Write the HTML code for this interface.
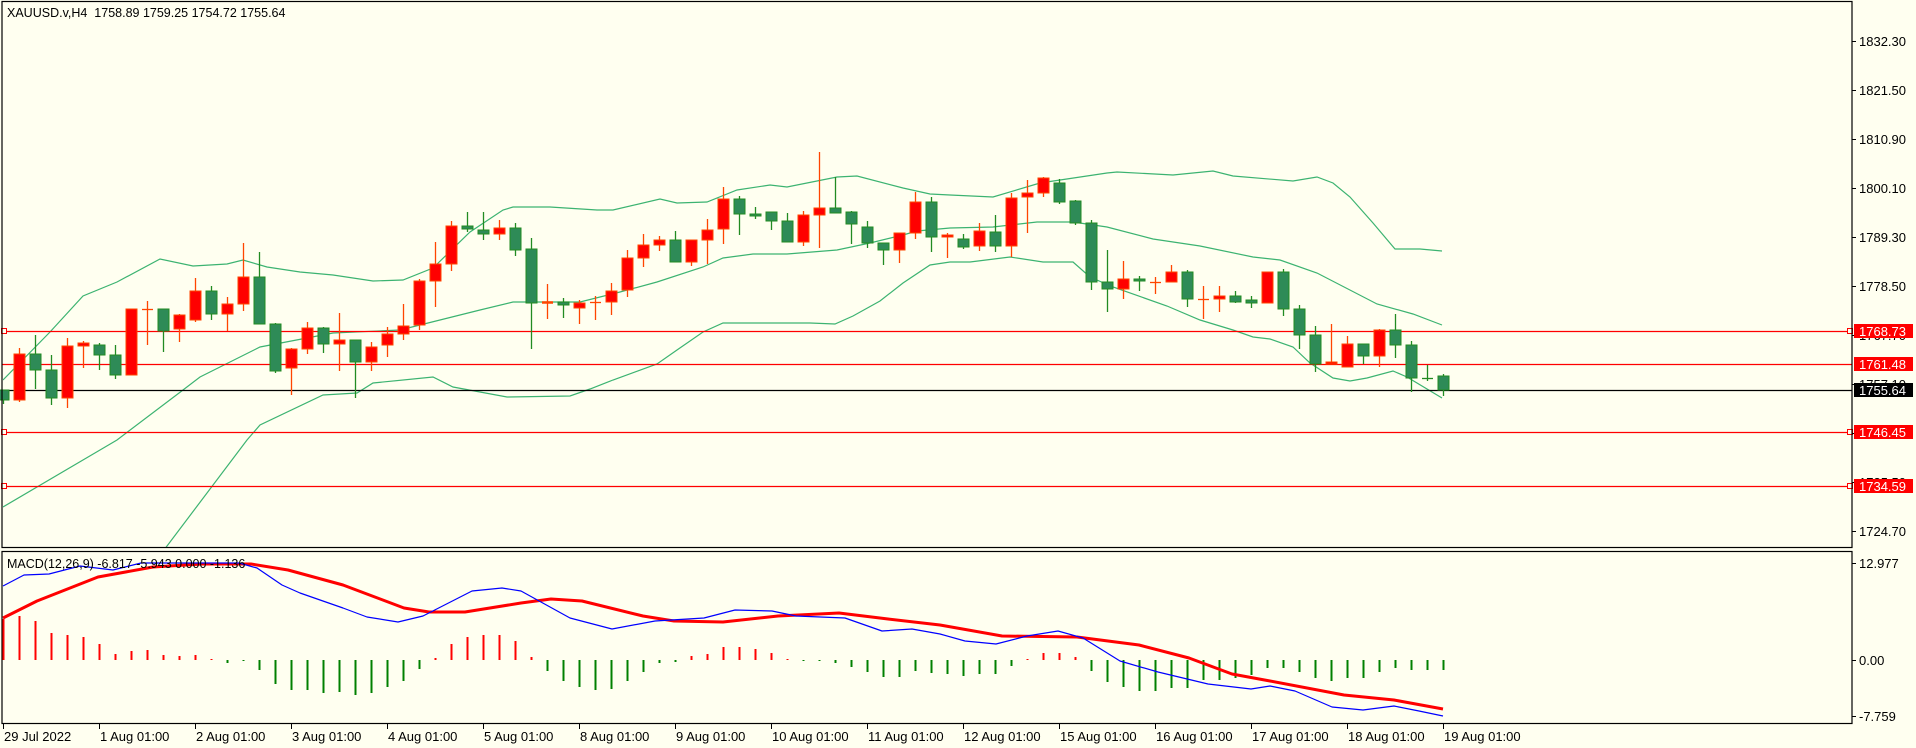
<!DOCTYPE html>
<html><head><meta charset="utf-8"><style>
html,body{margin:0;padding:0;background:#fffff0;}
svg{display:block;font-family:"Liberation Sans",sans-serif;}
text{white-space:pre;}
</style></head><body>
<svg id="c" width="1916" height="748" viewBox="0 0 1916 748" xmlns="http://www.w3.org/2000/svg" xml:space="preserve">
<rect width="1916" height="748" fill="#fffff0"/>
<g id="g"></g>
</svg>
<script>
const NS="http://www.w3.org/2000/svg",G=document.getElementById('g');
function el(t,a,txt){const e=document.createElementNS(NS,t);for(const k in a)e.setAttribute(k,a[k]);if(txt!==undefined)e.textContent=txt;G.appendChild(e);return e;}
function pl(pts,col,w){el('polyline',{points:pts.map(p=>p.join(',')).join(' '),fill:'none',stroke:col,'stroke-width':w,'stroke-linejoin':'round'});}
const X=k=>3.3+16*k;
const up=[[3,380],[50,332],[83,296],[117,282],[160,259],[193,266],[227,264],[243,260],[267,267],[300,272],[333,275],[373,281],[403,280],[433,268],[470,232],[503,210],[513,207],[550,207],[597,210],[613,210],[660,199],[677,203],[707,202],[737,190],[770,185],[787,187],[837,177],[857,176],[903,188],[930,194],[950,195],[993,197],[1040,183],[1107,173],[1117,172],[1173,175],[1213,171],[1233,176],[1293,181],[1317,177],[1333,183],[1350,197],[1373,223],[1395,249],[1420,249],[1442,251]];
const mid=[[3,507],[100,450],[117,440],[183,390],[200,377],[260,347],[333,333],[400,330],[480,310],[513,302],[580,302],[620,292],[657,282],[703,267],[723,258],[753,254],[787,254],[837,250],[870,243],[903,235],[917,231],[950,228],[993,227],[1037,222],[1073,222],[1107,227],[1153,239],[1200,246],[1253,257],[1280,260],[1317,273],[1377,304],[1413,314],[1442,325]];
const lo=[[157,560],[164,550],[247,440],[260,425],[323,395],[357,393],[373,383],[433,377],[453,387],[480,392],[507,397],[570,396],[590,389],[613,380],[657,364],[677,350],[703,332],[723,323],[810,323],[835,324],[853,316],[880,301],[903,283],[930,265],[950,262],[970,262],[1010,257],[1043,262],[1073,262],[1090,277],[1113,287],[1167,306],[1200,320],[1233,330],[1253,337],[1270,339],[1293,347],[1310,363],[1333,378],[1350,381],[1367,378],[1393,371],[1407,377],[1442,398]];
const cp=el('clipPath',{id:'mp'});const r=document.createElementNS(NS,'rect');r.setAttribute('x',3);r.setAttribute('y',2);r.setAttribute('width',1849);r.setAttribute('height',545);cp.appendChild(r);
const gb=el('g',{'clip-path':'url(#mp)'});
[up,mid,lo].forEach(p=>{const e=document.createElementNS(NS,'polyline');e.setAttribute('points',p.map(q=>q.join(',')).join(' '));e.setAttribute('fill','none');e.setAttribute('stroke','#3cb371');e.setAttribute('stroke-width','1.2');gb.appendChild(e);});
[[331,'#ff0000'],[364,'#ff0000'],[432,'#ff0000'],[486,'#ff0000']].forEach(([y,c])=>{el('line',{x1:2,x2:1852,y1:y+.5,y2:y+.5,stroke:c,'stroke-width':1.2});});
el('line',{x1:2,x2:1852,y1:390.5,y2:390.5,stroke:'#000','stroke-width':1.2});
[331,432,486].forEach(y=>{el('rect',{x:1.5,y:y-2.5,width:5,height:5,fill:'#fffff0',stroke:'#ff0000','stroke-width':1});el('rect',{x:1847.5,y:y-2.5,width:5,height:5,fill:'#fffff0',stroke:'#ff0000','stroke-width':1});});
const C=[['G',390,400,390,404],['R',354,400,348,402],['G',354,370,335,389],['G',370,398,355,405],['R',346,398,338,408],['R',343,346,341,368],['G',345,355,343,370],['G',355,375,345,379],['R',309,375,309,375],['R',309,309,301,345],
['G',309,331,309,352],['R',315,329,314,342],['R',291,320,278,322],['G',291,314,286,320],['R',304,314,297,331],['R',277,304,243,311],['G',277,324,252,324],['G',324,371,323,373],['R',349,368,348,395],['R',328,349,322,354],
['G',328,344,327,353],['R',340,344,313,371],['G',340,362,340,398],['R',347,362,342,371],['R',334,345,327,357],['R',326,334,304,340],['R',281,325,279,330],['R',264,281,242,307],['R',226,264,221,271],['G',226,229,212,232],
['G',230,234,212,240],['R',228,234,220,240],['G',228,250,223,256],['G',249,303,238,349],['R',302,303,284,319],['G',302,305,298,318],['R',303,308,300,324],['R',302,302,296,320],['R',291,302,283,315],['R',258,290,250,297],
['R',245,258,234,267],['R',240,245,236,251],['G',240,262,231,262],['R',240,262,240,266],['R',230,240,219,264],['R',199,229,187,244],['G',199,214,196,235],['G',214,216,207,219],['G',212,221,212,230],['G',221,242,213,242],
['R',215,242,211,246],['R',208,215,152,248],['G',208,213,177,213],['G',212,224,211,244],['G',227,243,221,248],['G',243,250,243,265],['R',233,250,233,263],['R',202,233,192,239],['G',202,237,197,252],['R',235,237,233,258],
['G',239,247,234,249],['R',231,246,223,251],['G',232,246,215,252],['R',198,246,193,257],['R',193,197,180,233],['R',178,193,177,197],['G',183,202,179,204],['G',201,223,200,225],['G',223,282,220,290],['G',282,289,250,312],
['R',279,289,261,299],['G',279,281,276,291],['R',282,282,277,294],['R',272,282,265,282],['G',272,299,270,307],['R',299,299,286,319],['R',296,299,286,312],['G',296,302,291,303],['G',300,303,296,308],['R',272,303,272,303],
['G',272,309,269,316],['G',309,335,305,349],['G',335,364,326,372],['R',362,364,324,364],['R',344,367,336,367],['G',344,356,344,364],['R',330,356,329,367],['G',330,345,314,358],['G',345,378,341,392],['G',378,378,365,381],['G',376,390,374,396]];
C.forEach((c,k)=>{const x=Math.round(X(k));const g=c[0]=='G';const wc=g?'#228b22':'#ff4500';
el('line',{x1:x+.5,x2:x+.5,y1:c[3],y2:c[4],stroke:wc,'stroke-width':1.3});
const h=c[2]-c[1];
if(h<2){el('line',{x1:x-5,x2:x+6,y1:c[1]+.5,y2:c[1]+.5,stroke:wc,'stroke-width':h<1?1.3:2.5});}
else el('rect',{x:x-5,y:c[1],width:11,height:h,fill:g?'#2e8b57':'#ff0000',stroke:wc,'stroke-width':1});});
el('rect',{x:2,y:1.5,width:1850,height:546,fill:'none',stroke:'#000','stroke-width':1.2});
el('rect',{x:2,y:551.5,width:1850,height:172,fill:'none',stroke:'#000','stroke-width':1.2});
const ax=[[1832.30,41],[1821.50,90],[1810.90,139],[1800.10,188],[1789.30,237],[1778.50,286],[1767.70,335],[1757.10,384],[1746.30,433],[1735.50,482],[1724.70,531]];
ax.forEach(([v,y])=>{el('line',{x1:1852,x2:1856,y1:y+.5,y2:y+.5,stroke:'#000'});el('text',{x:1859,y:y+5,'font-size':13,fill:'#000'},v.toFixed(2));});
[[331,'1768.73','#ff0000'],[364,'1761.48','#ff0000'],[390,'1755.64','#000'],[432,'1746.45','#ff0000'],[486,'1734.59','#ff0000']].forEach(([y,t,c])=>{el('rect',{x:1854,y:y-7,width:59,height:14,fill:c});el('text',{x:1859,y:y+5,'font-size':13,fill:'#fff'},t);});
el('text',{x:7,y:17,'font-size':12.5,fill:'#000'},'XAUUSD.v,H4  1758.89 1759.25 1754.72 1755.64');
const H=[619,616,621,633,635,637,644,654,651,650,655,656,655,660,663,661,670,684,690,690,693,692,695,693,687,681,669,658,644,637,635,635,641,657,671,681,687,690,689,681,672,663,662,656,654,647,647,649,653,659,661,661,663,667,672,677,677,671,673,674,676,674,674,666,659,653,653,657,671,682,687,691,691,688,688,680,680,678,675,668,668,672,678,681,678,678,672,668,670,670,670];
const rd=new Set([0,1,2,3,4,5,6,7,8,9,10,11,12,13,27,28,29,30,31,32,33,43,44,45,46,47,48,49,64,65,66,67]);
H.forEach((y,k)=>{const x=Math.round(X(k))+.5;el('line',{x1:x,x2:x,y1:660,y2:y==660?(rd.has(k)?659:661):y,stroke:rd.has(k)?'#ff0000':'#008000','stroke-width':2});});
pl([[3,618],[37,601],[98,577],[153,567],[202,564],[251,564],[288,570],[343,585],[404,608],[429,612],[465,612],[521,603],[551,599],[582,601],[643,616],[674,621],[723,622],[778,616],[839,613],[888,619],[940,625],[1002,636],[1077,637],[1139,645],[1189,658],[1232,674],[1270,681],[1344,695],[1394,700],[1443,709]],'#ff0000',3);
pl([[3,586],[24,575],[49,574],[80,566],[113,570],[141,563],[239,563],[257,568],[282,585],[300,593],[343,608],[367,617],[398,622],[423,616],[472,591],[502,588],[521,591],[570,618],[612,629],[655,621],[704,618],[735,610],[772,611],[796,616],[845,618],[882,631],[912,629],[940,634],[965,641],[996,644],[1027,636],[1058,631],[1083,638],[1120,661],[1158,672],[1208,684],[1251,689],[1270,686],[1295,691],[1332,707],[1363,710],[1394,706],[1419,711],[1443,716]],'#0000ff',1.2);
el('text',{x:7,y:568,'font-size':12.5,fill:'#000'},'MACD(12,26,9) -6.817 -5.943 0.000 -1.136');
[[563,'12.977'],[660,'0.00'],[716,'-7.759']].forEach(([y,t])=>{el('line',{x1:1852,x2:1856,y1:y+.5,y2:y+.5,stroke:'#000'});el('text',{x:1859,y:y+5,'font-size':13,fill:'#000'},t);});
const T=['29 Jul 2022','1 Aug 01:00','2 Aug 01:00','3 Aug 01:00','4 Aug 01:00','5 Aug 01:00','8 Aug 01:00','9 Aug 01:00','10 Aug 01:00','11 Aug 01:00','12 Aug 01:00','15 Aug 01:00','16 Aug 01:00','17 Aug 01:00','18 Aug 01:00','19 Aug 01:00'];
T.forEach((t,i)=>{const x=3+96*i;el('line',{x1:x+.5,x2:x+.5,y1:724,y2:729,stroke:'#000'});el('text',{x:x+1,y:741,'font-size':13,fill:'#000'},t);});
</script>
</body></html>
